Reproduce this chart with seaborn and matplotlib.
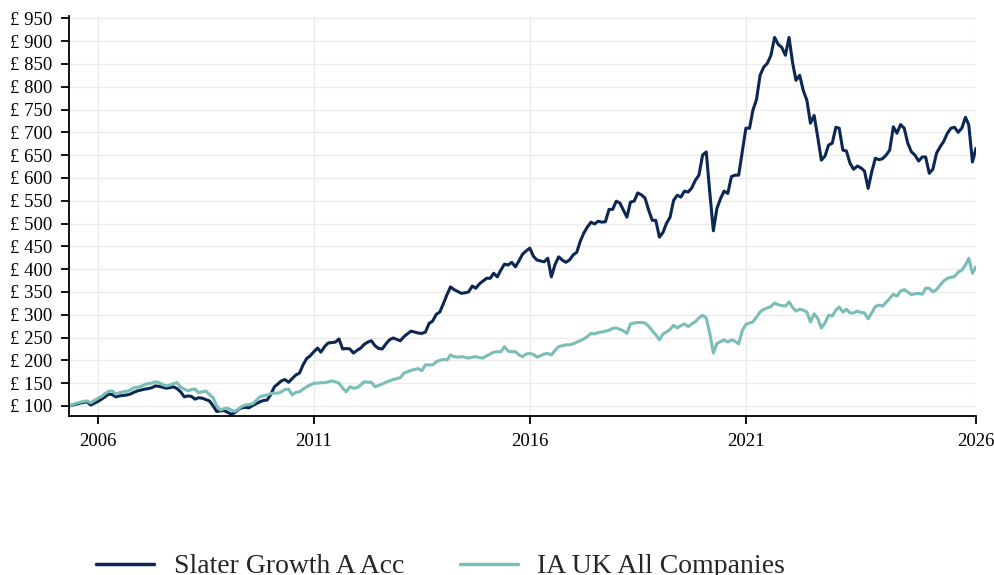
import pandas as pd
import numpy as np
import matplotlib
matplotlib.use('Agg')
import matplotlib.pyplot as plt
import seaborn as sns

# monthly values, May 2005 onwards, rebased to 100
slater = [
    100, 102, 104, 106, 108, 109, 102, 106,                        # 2005
    110, 115, 120, 126, 125, 120, 122, 123, 124, 126, 130, 133,    # 2006
    135, 137, 138, 140, 144, 143, 141, 139, 140, 142, 138, 131,    # 2007
    120, 122, 121, 115, 118, 117, 114, 111, 100, 88, 89, 90,       # 2008
    86, 82, 85, 92, 96, 97, 96, 101, 105, 109, 112, 113,           # 2009
    125, 142, 148, 155, 158, 152, 160, 168, 172, 190, 204, 210,    # 2010
    219, 227, 218, 230, 238, 239, 240, 247, 225, 226, 225, 216,    # 2011
    222, 227, 235, 240, 243, 232, 226, 225, 236, 245, 249, 246,    # 2012
    243, 252, 258, 264, 262, 260, 259, 262, 281, 286, 301, 306,    # 2013
    325, 345, 361, 355, 351, 347, 348, 350, 363, 358, 368, 374,    # 2014
    380, 380, 391, 383, 398, 411, 409, 415, 405, 418, 433, 440,    # 2015
    446, 428, 420, 418, 416, 424, 383, 410, 427, 420, 415, 420,    # 2016
    431, 437, 460, 479, 492, 503, 499, 505, 503, 504, 531, 531,    # 2017
    549, 545, 530, 514, 547, 549, 567, 563, 556, 530, 507, 507,    # 2018
    470, 481, 500, 514, 551, 562, 558, 571, 569, 578, 595, 606,    # 2019
    650, 657, 570, 484, 533, 555, 571, 566, 603, 606, 606, 657,    # 2020
    709, 709, 748, 772, 825, 843, 851, 869, 908, 893, 886, 869,    # 2021
    908, 851, 814, 825, 792, 770, 720, 737, 689, 639, 648, 672,    # 2022
    676, 711, 709, 661, 659, 632, 619, 626, 622, 615, 577, 613,    # 2023
    643, 640, 642, 650, 661, 712, 698, 717, 709, 676, 657, 650,    # 2024
    637, 646, 646, 610, 619, 654, 668, 680, 698, 709, 711, 700,    # 2025
    709, 733, 716, 635, 665,                                       # 2026
]

ia_uk = [
    100, 103, 106, 108, 110, 111, 107, 112,
    117, 121, 127, 132, 133, 126, 129, 131, 132, 135, 140, 141,
    143, 147, 149, 150, 153, 151, 147, 144, 146, 149, 151, 141,
    137, 133, 136, 137, 129, 131, 133, 125, 118, 100, 91, 94,
    95, 91, 88, 93, 99, 102, 103, 105, 112, 120, 122, 124,
    127, 128, 128, 131, 136, 137, 124, 130, 131, 137, 142, 146,
    150, 150, 151, 151, 153, 155, 153, 150, 139, 131, 142, 139,
    140, 146, 153, 152, 152, 142, 145, 148, 152, 155, 158, 160,
    162, 172, 175, 178, 180, 182, 177, 190, 190, 190, 197, 200,
    202, 201, 212, 208, 207, 208, 207, 205, 207, 208, 206, 205,
    210, 214, 218, 219, 219, 230, 220, 219, 219, 212, 208, 214,
    215, 213, 207, 210, 214, 215, 212, 222, 230, 232, 234, 234,
    236, 240, 243, 247, 252, 259, 258, 261, 262, 264, 266, 270,
    271, 268, 265, 259, 280, 282, 283, 283, 282, 275, 265, 256,
    245, 258, 262, 268, 277, 271, 276, 280, 274, 280, 285, 293,
    299, 293, 260, 216, 237, 241, 245, 240, 245, 242, 236, 265,
    279, 282, 284, 295, 306, 312, 315, 318, 326, 322, 320, 319,
    328, 316, 308, 312, 310, 306, 284, 302, 292, 271, 282, 299,
    297, 310, 317, 306, 312, 304, 304, 308, 305, 304, 291, 304,
    318, 321, 319, 327, 336, 345, 341, 352, 355, 350, 344, 346,
    347, 345, 358, 358, 350, 355, 365, 374, 380, 382, 384, 393,
    398, 409, 424, 391, 405,
]

series_names = ['Slater Growth A Acc', 'IA UK All Companies']
series_colors = ['#0b2752', '#7bbdb7']
year_ticks = ['2006', '2011', '2016', '2021', '2026']

dates = pd.date_range('2005-05-01', periods=len(slater), freq='MS')
df = pd.concat([
    pd.DataFrame({'date': dates, 'value': slater, 'fund': series_names[0]}),
    pd.DataFrame({'date': dates, 'value': ia_uk, 'fund': series_names[1]}),
])

sns.set_theme(style='whitegrid')
plt.rcParams['font.family'] = ['Liberation Serif', 'DejaVu Serif']

fig = plt.figure(figsize=(9.95, 5.75), dpi=100)
ax = fig.add_axes([69 / 995, 1 - 416 / 575, (976 - 69) / 995, 400 / 575])

sns.lineplot(data=df, x='date', y='value', hue='fund', palette=series_colors,
             linewidth=2.2, ax=ax, legend=False)

ax.set_ylim(78, 955)
ax.set_xlim(dates[0], dates[-1])
ax.set_yticks(np.arange(100, 951, 50))
ax.set_yticklabels([f'£ {v}' for v in range(100, 951, 50)], fontsize=13.5)

tick_dates = [pd.Timestamp(f'{y}-01-01') for y in year_ticks[:-1]] + [dates[-1]]
ax.set_xticks(tick_dates)
ax.set_xticklabels(year_ticks, fontsize=13.5)

ax.set_xlabel('')
ax.set_ylabel('')
ax.grid(True, color='#ebebeb', linewidth=1)
for side in ['top', 'right']:
    ax.spines[side].set_visible(False)
for side in ['left', 'bottom']:
    ax.spines[side].set_color('black')
    ax.spines[side].set_linewidth(1.3)
ax.tick_params(axis='y', length=6, width=1.3, color='black', pad=6, left=True)
ax.tick_params(axis='x', length=6, width=1.3, color='black', pad=6, bottom=True)
for lab in ax.get_xticklabels() + ax.get_yticklabels():
    lab.set_color('black')

handles = [plt.Line2D([], [], color=c, linewidth=2.5) for c in series_colors]
fig.legend(handles, series_names, loc='upper left', bbox_to_anchor=(71 / 995, 1 - 529 / 575),
           ncol=2, frameon=False, fontsize=20, handlelength=2.1, handletextpad=0.7,
           columnspacing=2.0)

fig.savefig('out.png', dpi=100)
